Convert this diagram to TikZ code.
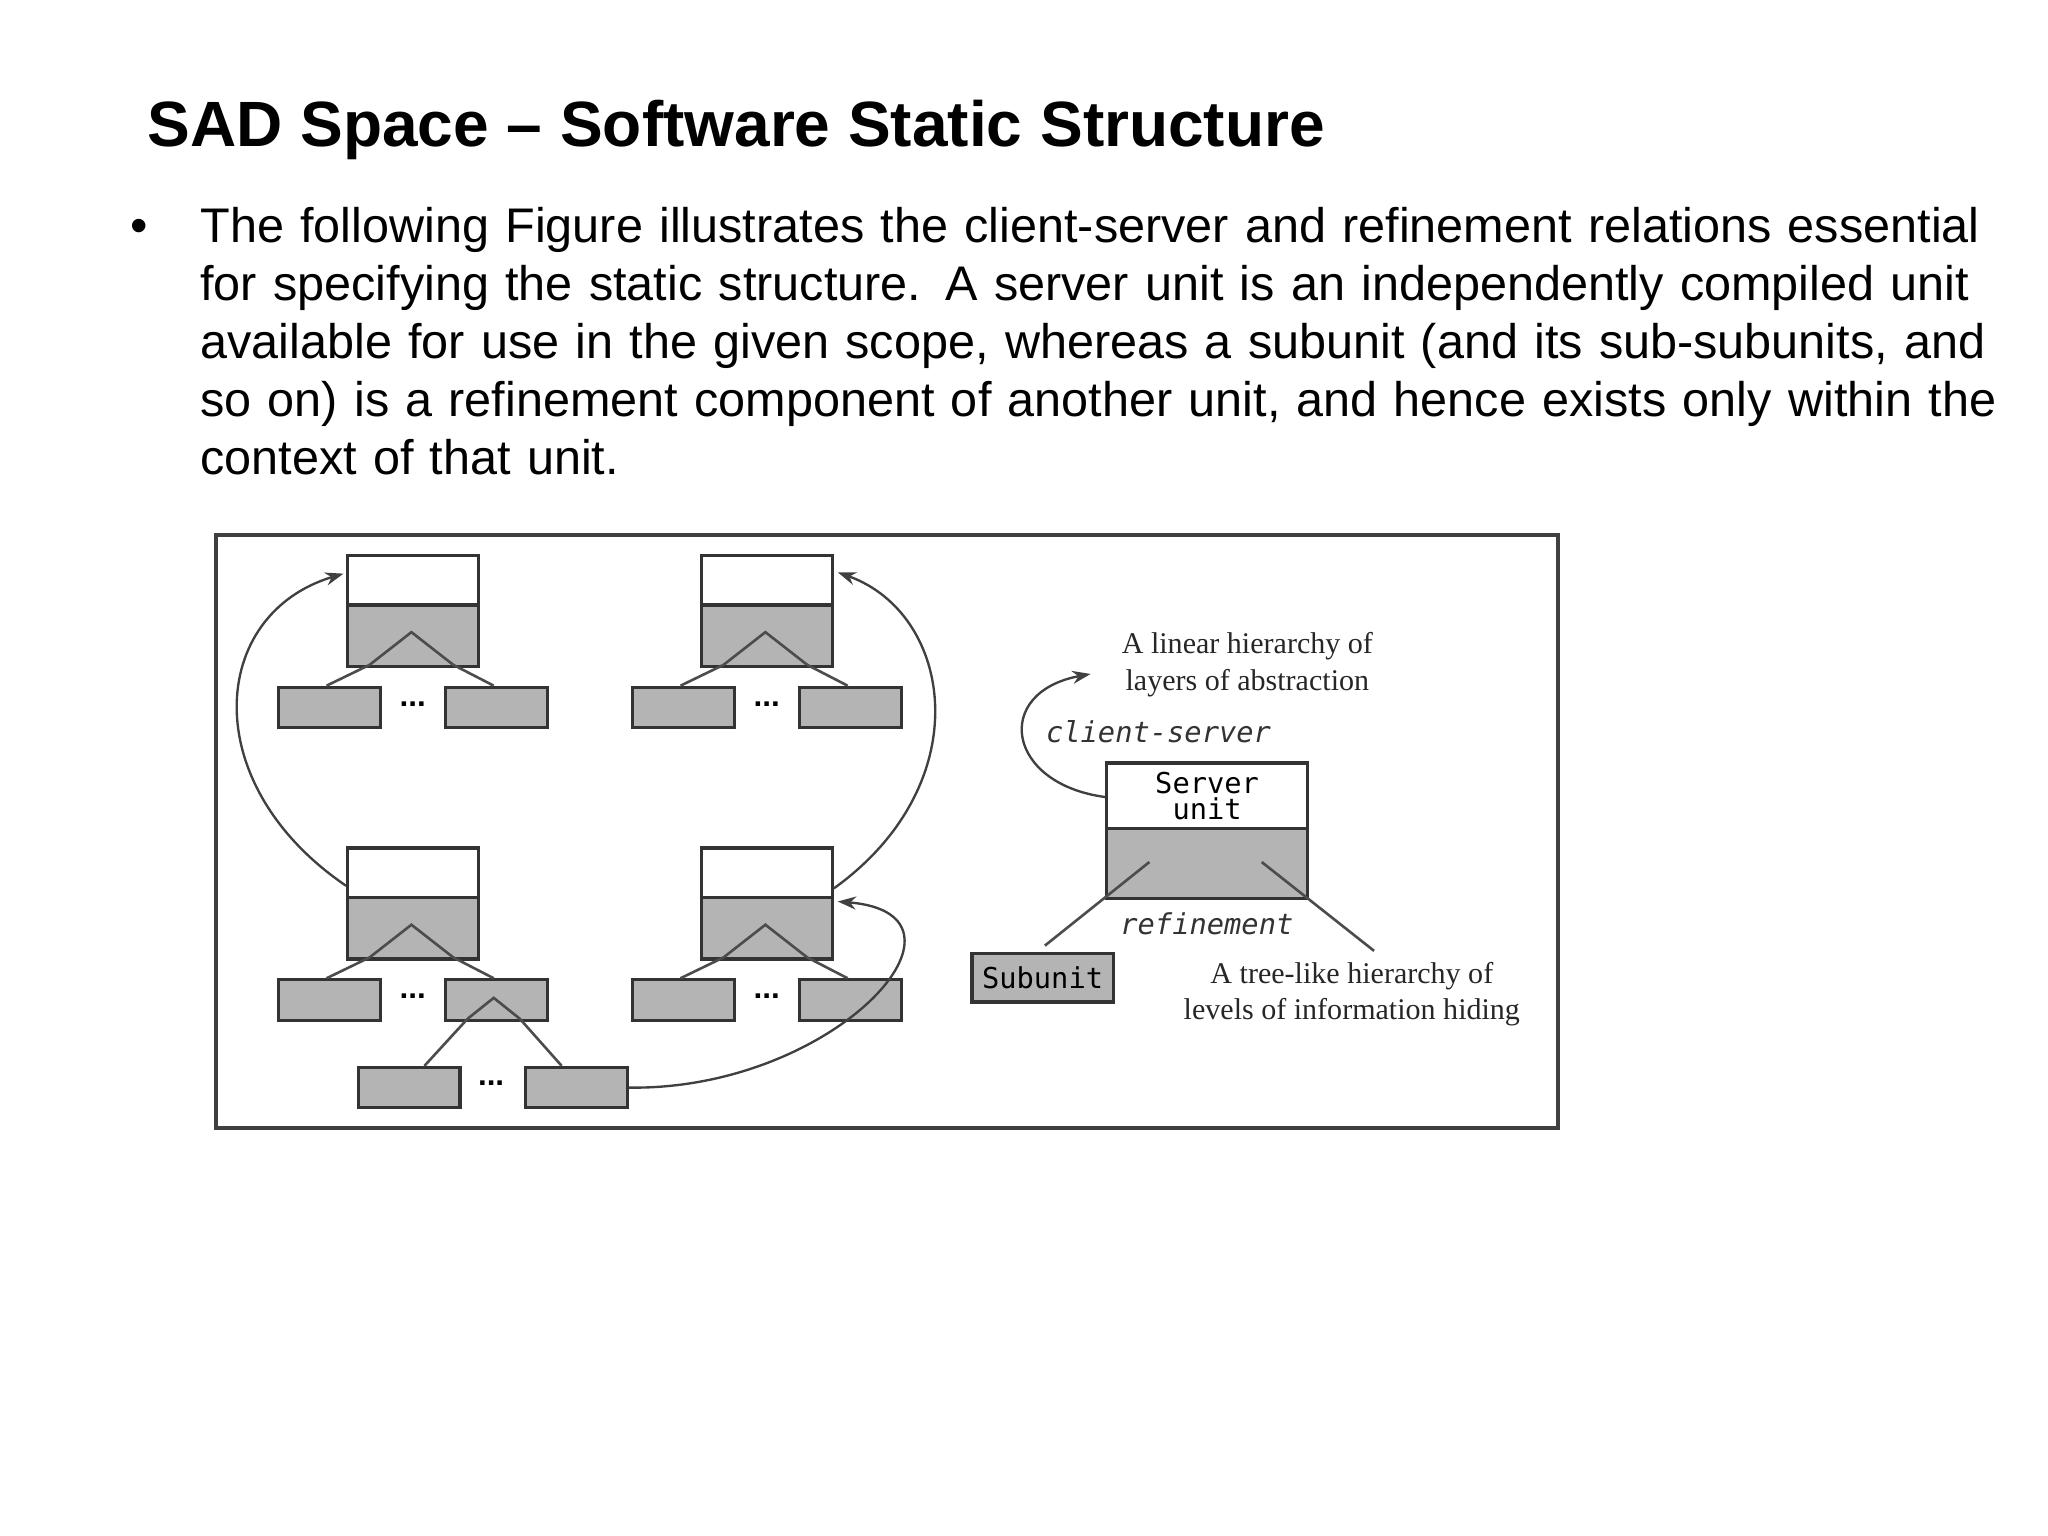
\documentclass[tikz,border=0pt]{standalone}
\usepackage{fontspec}
\setmainfont{Liberation Sans}
\newfontfamily\serifx{Liberation Serif}
\newfontfamily\monox{DejaVu Sans Mono}
\usetikzlibrary{arrows.meta}
\definecolor{boxgray}{HTML}{B4B4B4}
\tikzset{
 wbox/.style={draw=black!80,fill=white,line width=1.2pt},
 gbox/.style={draw=black!80,fill=boxgray,line width=1.2pt},
 ln/.style={draw=black!70,line width=1pt},
 arr/.style={draw=black!75,line width=0.9pt,-{Stealth[length=7pt,width=5pt]}},
 dots/.style={font=\bfseries\fontsize{12}{12}\selectfont},
 lab/.style={font=\serifx\fontsize{11.5}{14}\selectfont,align=center,text=black!85},
 mono/.style={font=\monox\itshape\fontsize{11}{13}\selectfont,text=black!80,align=center}
}
\newcommand{\unitblock}[3]{% name, left x, top y
 \node[wbox,minimum width=50pt,minimum height=19pt,inner sep=0pt,anchor=north west] (#1w) at (#2,#3) {};
 \node[gbox,minimum width=50pt,minimum height=23.5pt,inner sep=0pt,anchor=north west] (#1g) at (#2,#3+38) {};
 \draw[ln] ($(#1g.south west)+(18,0)$) -- ($(#1g.south)+(0,-25)$) -- ($(#1g.south east)+(-18,0)$);
}
\usetikzlibrary{calc}
\begin{document}
\begin{tikzpicture}[x=0.5pt,y=-0.5pt]
\useasboundingbox (0,0) rectangle (1568,1176);
\node[anchor=base west,font=\bfseries\fontsize{24.5}{28}\selectfont] (title) at (106,112) {SAD Space -- Software Static Structure};
\node[anchor=base west,font=\fontsize{19}{22}\selectfont] (bul) at (93,186) {•};
\node[anchor=north west,align=left,text width=710pt,inner sep=0pt,font=\fontsize{18.6}{22.25}\selectfont] (body) at (153,158) {The following Figure illustrates the client-server and refinement relations essential for specifying the static structure. A server unit is an independently compiled unit available for use in the given scope, whereas a subunit (and its sub-subunits, and so on) is a refinement component of another unit, and hence exists only within the context of that unit.};
% frame
\node[draw=black!75,line width=1.5pt,minimum width=513.5pt,minimum height=227pt,anchor=north west,inner sep=0pt] (frame) at (164,408) {};
% blocks
\foreach \n/\x/\y in {A/265/424,B/536/424,C/265/648,D/536/648}{
 \node[wbox,minimum width=50pt,minimum height=19pt,inner sep=0pt,anchor=north west] (\n w) at (\x,\y) {};
 \node[gbox,minimum width=50pt,minimum height=23.5pt,inner sep=0pt,anchor=north west] (\n g) at (\x,\y+38) {};
 \draw[ln] (\x+18,\y+85) -- (\x+50,\y+60) -- (\x+82,\y+85);
 \node[gbox,minimum width=39pt,minimum height=15.5pt,inner sep=0pt,anchor=north west] (\n l) at (\x-53,\y+101) {};
 \node[gbox,minimum width=39pt,minimum height=15.5pt,inner sep=0pt,anchor=north west] (\n r) at (\x+75,\y+101) {};
 \node[dots] (\n d) at (\x+51,\y+115) {...};
 \draw[ln] (\x+18,\y+85) -- (\x-15,\y+101);
 \draw[ln] (\x+82,\y+85) -- (\x+113,\y+101);
}
% grandchildren
\node[gbox,minimum width=39pt,minimum height=15.5pt,inner sep=0pt,anchor=north west] (Cgl) at (273,816) {};
\node[gbox,minimum width=39pt,minimum height=15.5pt,inner sep=0pt,anchor=north west] (Cgr) at (401,816) {};
\node[dots] (Cgd) at (376,829) {...};
\draw[ln] (358,780) -- (378,764) -- (398,780);
\draw[ln] (358,780) -- (325,816);
\draw[ln] (398,780) -- (430,816);
% arrows
\draw[arr] (Cw.west) ++(0,10) .. controls (150,600) and (160,470) .. ($(Aw.west)+(-2,-5)$);
\draw[arr] ($(Dw.east)+(0,12)$) .. controls (750,600) and (730,470) .. ($(Bw.east)+(3,-6)$);
\draw[arr] (Cgr.east) .. controls (640,835) and (760,700) .. ($(Dw.east)+(3,22)$);
% right part
\node[wbox,minimum width=77pt,minimum height=25pt,inner sep=0pt,anchor=north west,align=center,font=\monox\fontsize{11}{12}\selectfont] (Sw) at (846,583) {Server\\[-2pt]unit};
\node[gbox,minimum width=77pt,minimum height=27pt,inner sep=0pt,anchor=north west] (Sg) at (846,633) {};
\node[gbox,minimum width=54pt,minimum height=18.5pt,inner sep=0pt,anchor=north west,font=\monox\fontsize{11}{12}\selectfont] (Sub) at (743,729) {Subunit};
\draw[ln] (880,660) -- (800,724);
\draw[ln] (966,660) -- (1052,728);
\coordinate (lintip) at (835,516);
\draw[arr] ($(Sw.west)+(0,1)$) .. controls (770,600) and (760,530) .. (lintip);
\node[lab] (lin) at (955,509) {A linear hierarchy of\\layers of abstraction};
\node[mono] (cs) at (887,560) {client-server};
\node[mono] (ref) at (924,707) {refinement};
\node[lab] (tree) at (1035,761) {A tree-like hierarchy of\\levels of information hiding};
\end{tikzpicture}
\end{document}
